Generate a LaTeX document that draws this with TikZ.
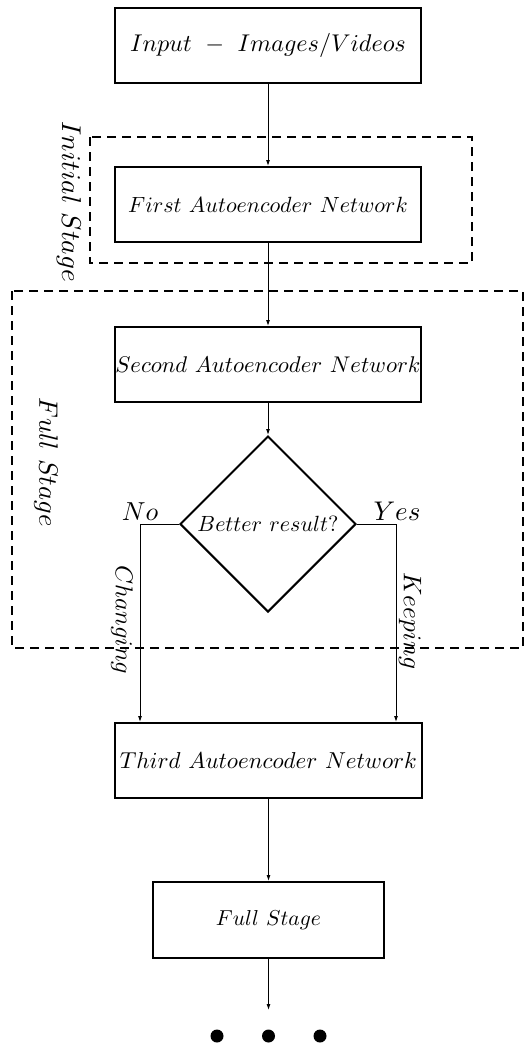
\documentclass[tikz,border=0pt]{standalone}
\usepackage{graphicx}
\usetikzlibrary{shapes.geometric,arrows.meta}
\tikzset{
  box/.style={draw, line width=2pt, minimum width=306pt, minimum height=75pt, inner sep=0pt},
  arr/.style={line width=0.9pt, -{Latex[length=6pt,width=4pt]}},
  dashbox/.style={line width=2pt, dash pattern=on 9pt off 6pt},
  lbl/.style={inner sep=0pt},
  dot/.style={circle, fill, inner sep=0pt, minimum size=13pt}
}
\newcommand{\fs}[2]{\scalebox{#1}{$#2$}}
\begin{document}
\begin{tikzpicture}[x=1pt,y=-1pt]
\useasboundingbox (0,0) rectangle (524,1044);
% dashed stage frames
\draw[dashbox] (90,137) rectangle (472,263);
\draw[dashbox] (12,291) rectangle (523,648);
% boxes
\node[box] (input) at (268,45) {\fs{2.42}{Input\ -\ Images/Videos}};
\node[box] (first) at (268,204.5) {\fs{2.2}{First\ Autoencoder\ Network}};
\node[box] (second) at (268,364.5) {\fs{2.27}{Second\ Autoencoder\ Network}};
\node[draw, diamond, aspect=1, line width=2pt, inner sep=0pt, minimum width=176pt, minimum height=176pt] (dia) at (268,524) {\fs{2.2}{Better\ result?}};
\node[box, minimum width=307pt] (third) at (268.5,760.5) {\fs{2.3}{Third\ Autoencoder\ Network}};
\node[box, minimum width=231pt, minimum height=76pt] (full) at (268.5,920) {\fs{2.16}{Full\ Stage}};
% side labels
\node[lbl, rotate=-90] (linit) at (69,202) {\fs{2.72}{Initial\ Stage}};
\node[lbl, rotate=-90] (lfull) at (46,462) {\fs{2.66}{Full\ Stage}};
% connectors
\draw[arr] (input.south) -- (first.north);
\draw[arr] (first.south) -- (second.north);
\draw[arr] (second.south) -- (dia.north);
\coordinate (nc) at (140,524);
\coordinate (yc) at (396,524);
\draw[arr] (dia.west) -- (nc) -- (nc |- third.north);
\draw[arr] (dia.east) -- (yc) -- (yc |- third.north);
\node[lbl, anchor=base] (no) at (140,520) {\fs{2.6}{No}};
\node[lbl, anchor=base] (yes) at (397,520) {\fs{2.7}{Yes}};
\node[lbl, rotate=-90] (chg) at (122,620) {\fs{2.43}{Changing}};
\node[lbl, rotate=-90] (kep) at (410,621) {\fs{2.54}{Keeping}};
\draw[arr] (third.south) -- (full.north);
\coordinate (dend) at (268.5,1010);
\draw[arr] (full.south) -- (dend);
\node[dot] (d1) at (217,1036) {};
\node[dot] (d2) at (268.5,1036) {};
\node[dot] (d3) at (320,1036) {};
\end{tikzpicture}
\end{document}
